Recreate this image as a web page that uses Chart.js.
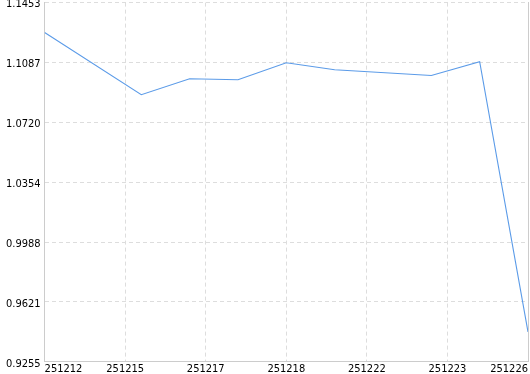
<!DOCTYPE html>
<html lang="en">
<head>
  <meta charset="UTF-8" />
  <title>Line</title>
  <script src="https://cdn.jsdelivr.net/npm/chart.js"></script>
  <style>
    body { margin: 0; background: #fff; overflow: hidden; }
    /* canvas a bit taller than the window and moved up so the plot starts near the top */
    #wrap { width: 530px; height: 385px; position: relative; top: -8px; }
  </style>
</head>
<body>
  <div id="wrap"><canvas id="chart"></canvas></div>
  <script>
    // data (x = position on the time axis, 0..60)
    const xValues = [0, 12, 18, 24, 30, 36, 48, 54, 60];
    const yValues = [1.1270, 1.0889, 1.0987, 1.0981, 1.1085, 1.1042, 1.1007, 1.1091, 0.9438];

    const xTickPos = [0, 10, 20, 30, 40, 50, 60];
    const xTickLabels = ['251212', '251215', '251217', '251218', '251222', '251223', '251226'];
    const yTickLabels = ['0.9255', '0.9621', '0.9988', '1.0354', '1.0720', '1.1087', '1.1453'];

    const font = { family: 'DejaVu Sans Condensed', size: 11 };
    const gridColor = '#dddddd';
    const axisColor = '#cccccc';

    new Chart(document.getElementById('chart'), {
      type: 'line',
      data: {
        datasets: [{
          data: xValues.map((x, i) => ({ x, y: yValues[i] })),
          borderColor: '#5b9be8',
          borderWidth: 1.1,
          pointRadius: 0,
          tension: 0,
          fill: false
        }]
      },
      options: {
        responsive: true,
        maintainAspectRatio: false,
        animation: false,
        layout: { padding: { left: 2, right: 2, top: 0, bottom: 0 } },
        plugins: { legend: { display: false }, tooltip: { enabled: false } },
        scales: {
          x: {
            type: 'linear',
            min: 0,
            max: 60,
            afterBuildTicks: s => { s.ticks = xTickPos.map(v => ({ value: v })); },
            ticks: {
              font, color: '#000', padding: 1, maxRotation: 0, autoSkip: false,
              align: 'inner',
              callback: (v, i) => xTickLabels[i]
            },
            grid: { color: gridColor, drawTicks: false },
            border: { display: true, color: axisColor, dash: [4, 3] }
          },
          y: {
            min: 0.9255,
            max: 1.1453,
            afterBuildTicks: s => { s.ticks = yTickLabels.map(v => ({ value: parseFloat(v) })); },
            ticks: {
              font, color: '#000', padding: 4, labelOffset: 2,
              callback: (v, i) => yTickLabels[i]
            },
            grid: { color: gridColor, drawTicks: false },
            border: { display: true, color: axisColor, dash: [4, 3] }
          },
          yr: {
            position: 'right',
            min: 0.9255,
            max: 1.1453,
            ticks: { display: false },
            grid: { display: false, drawTicks: false },
            border: { display: true, color: axisColor }
          }
        }
      }
    });
  </script>
</body>
</html>
